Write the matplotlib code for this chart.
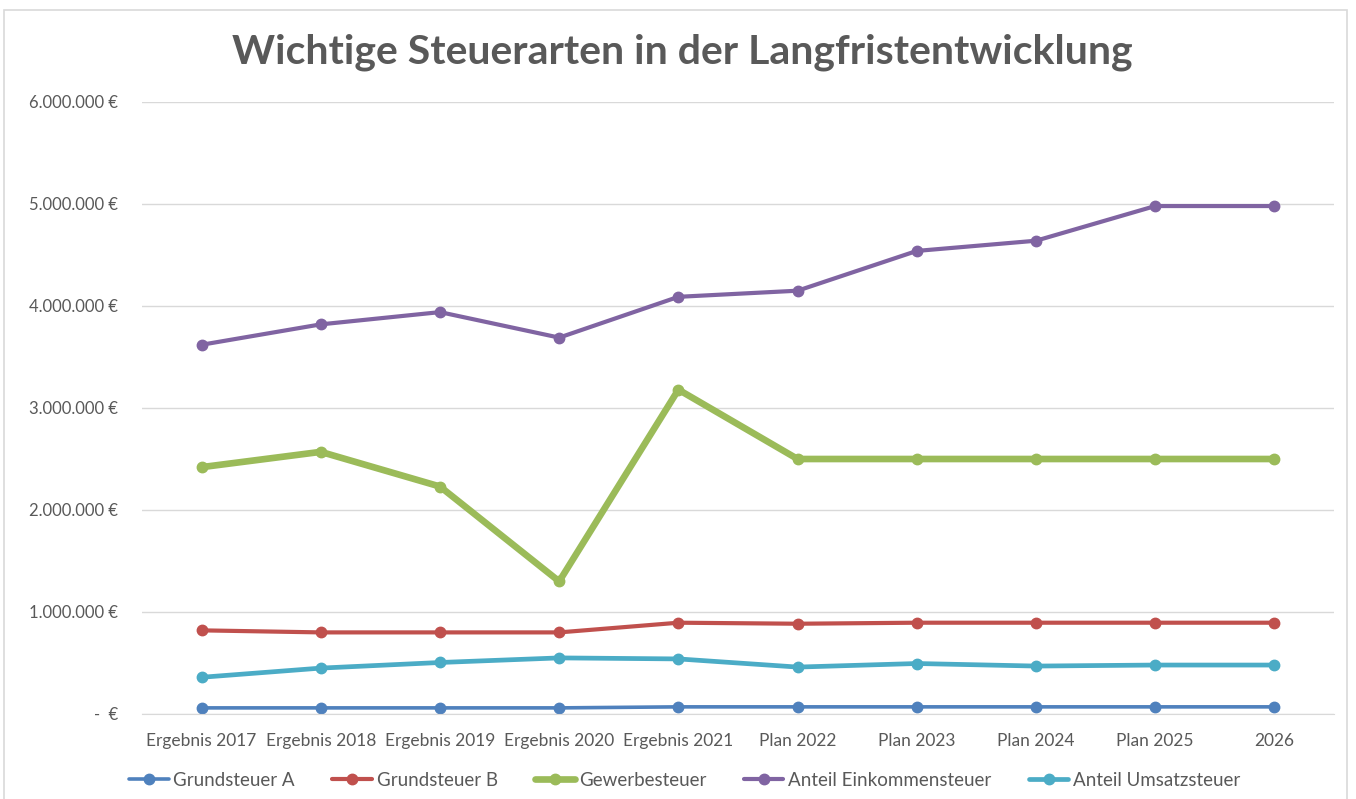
import matplotlib
matplotlib.use("Agg")
import matplotlib.pyplot as plt
from matplotlib.patches import Rectangle

plt.rcParams['font.family'] = ['Lato', 'DejaVu Sans']

# Kategorien und Werte (in Euro)
kategorien = ["Ergebnis 2017", "Ergebnis 2018", "Ergebnis 2019", "Ergebnis 2020", "Ergebnis 2021",
              "Plan 2022", "Plan 2023", "Plan 2024", "Plan 2025", "2026"]
grundsteuer_a = [60000, 60000, 60000, 60000, 70000, 70000, 70000, 70000, 70000, 70000]
grundsteuer_b = [820000, 800000, 800000, 800000, 895000, 885000, 895000, 895000, 895000, 895000]
gewerbesteuer = [2420000, 2570000, 2230000, 1300000, 3180000, 2500000, 2500000, 2500000, 2500000, 2500000]
einkommensteuer = [3620000, 3820000, 3940000, 3690000, 4090000, 4150000, 4540000, 4640000, 4980000, 4980000]
umsatzsteuer = [360000, 450000, 505000, 550000, 540000, 460000, 495000, 470000, 480000, 480000]
yticks = [0, 1000000, 2000000, 3000000, 4000000, 5000000, 6000000]

reihen = [
    ("Grundsteuer A", grundsteuer_a, "#4F81BD", 2.6),
    ("Grundsteuer B", grundsteuer_b, "#C0504D", 3.0),
    ("Gewerbesteuer", gewerbesteuer, "#9BBB59", 4.8),
    ("Anteil Einkommensteuer", einkommensteuer, "#8064A2", 3.0),
    ("Anteil Umsatzsteuer", umsatzsteuer, "#4BACC6", 3.4),
]

fig = plt.figure(figsize=(13.56, 7.99), dpi=100)
ax = fig.add_axes([142 / 1356, 1 - 714 / 799, (1334 - 142) / 1356, (714 - 102) / 799])

# Rahmen ums Diagramm
fig.patches.append(Rectangle((4 / 1356, -0.01), 1343 / 1356, 1 - 10 / 799 + 0.01,
                             transform=fig.transFigure, fill=False, edgecolor="#d9d9d9", lw=1.2))

x = list(range(len(kategorien)))
for name, werte, farbe, lw in reihen:
    ax.plot(x, werte, color=farbe, lw=lw, marker="o", markersize=7.5, label=name,
            solid_capstyle="round")

ax.set_xlim(-0.5, len(kategorien) - 0.5)
ax.set_ylim(0, 6000000)
ax.set_yticks(yticks)
def fmt(v):
    if v == 0:
        return "-  €"
    return f"{v:,.0f} €".replace(",", ".")
ax.set_yticklabels([fmt(v) for v in yticks])
ax.set_xticks(x)
ax.set_xticklabels(kategorien)
ax.tick_params(axis="both", length=0, colors="#595959")
ax.tick_params(axis="y", pad=17, labelsize=12)
ax.tick_params(axis="x", pad=14, labelsize=12.5)
ax.grid(axis="y", color="#d9d9d9", lw=1)
ax.set_axisbelow(True)
for s in ["top", "right", "left"]:
    ax.spines[s].set_visible(False)
ax.spines["bottom"].set_color("#d9d9d9")

fig.text(0.503, 1 - 52 / 799, "Wichtige Steuerarten in der Langfristentwicklung",
         ha="center", va="center", fontsize=29.5, fontweight="bold", color="#595959")

leg = fig.legend(loc="center", bbox_to_anchor=(0.505, 1 - 780 / 799), ncol=5, frameon=False,
                 fontsize=13.5, handlelength=2.1, columnspacing=2.0, handletextpad=0.25)
for t in leg.get_texts():
    t.set_color("#595959")

fig.savefig("out.png", dpi=100)
